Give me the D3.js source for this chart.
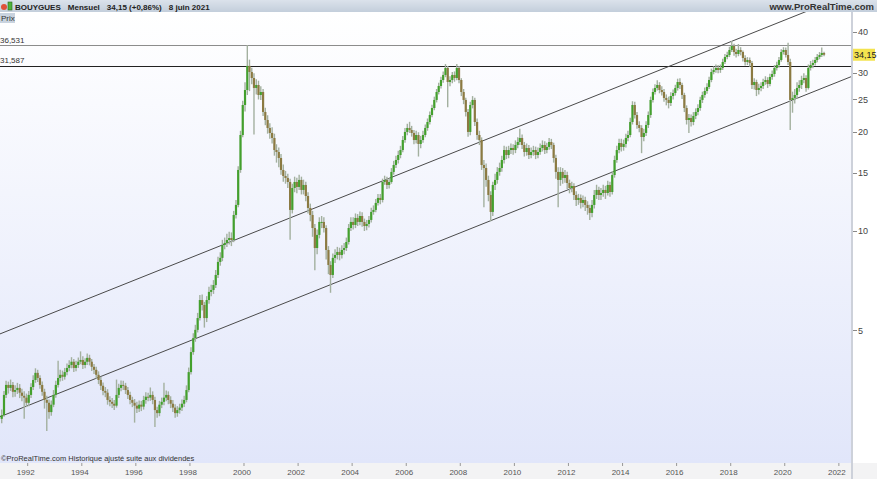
<!DOCTYPE html>
<html>
<head>
<meta charset="utf-8">
<script src="https://cdn.jsdelivr.net/npm/d3@7"></script>
<style>
body { margin: 0; background: #fff; }
svg { display: block; font-family: "Liberation Sans", Arial, sans-serif; }
</style>
</head>
<body>
<script>
// monthly closes, Jan 1991 -> Jun 2021 (one line per year)
var closes = [
  2.77, 3.19, 3.42, 3.35, 3.42, 3.26, 3.30, 3.35, 3.24, 3.17, 3.13, 3.02,
  3.19, 3.37, 3.54, 3.72, 3.59, 3.42, 3.26, 3.08, 3.02, 2.83, 2.98, 3.19,
  3.42, 3.59, 3.67, 3.62, 3.74, 3.85, 3.93, 4.02, 3.85, 3.93, 4.02, 4.07,
  3.93, 4.02, 4.13, 4.02, 3.88, 3.80, 3.67, 3.54, 3.40, 3.28, 3.24, 3.08,
  3.04, 3.00, 2.96, 3.19, 3.35, 3.42, 3.40, 3.30, 3.19, 3.08, 3.02, 2.96,
  2.90, 2.98, 2.94, 3.08, 3.15, 3.13, 3.19, 3.08, 2.87, 2.81, 2.98, 3.04,
  3.13, 3.19, 3.08, 3.00, 2.92, 2.81, 2.87, 2.92, 3.00, 3.08, 3.30, 3.74,
  4.30, 4.74, 5.02, 5.45, 6.18, 5.97, 5.45, 6.18, 6.54, 6.63, 6.86, 7.36,
  8.06, 8.29, 9.07, 9.20, 9.39, 9.52, 9.39, 11.18, 11.99, 15.30, 19.52, 24.06,
  26.71, 31.59, 30.28, 29.04, 27.09, 27.66, 25.80, 26.34, 22.92, 21.67, 20.50, 19.80,
  19.12, 17.58, 17.34, 16.63, 15.30, 14.67, 14.47, 14.07, 11.58, 13.49, 14.07, 13.59,
  14.27, 13.31, 13.78, 12.76, 11.74, 11.18, 10.21, 8.88, 9.73, 10.65, 10.65, 10.21,
  8.76, 7.89, 7.36, 8.29, 8.46, 8.64, 8.46, 8.76, 8.88, 9.26, 10.21, 10.65,
  10.43, 10.95, 10.65, 11.10, 10.65, 10.35, 10.50, 10.80, 11.42, 11.58, 12.16, 12.59,
  12.41, 14.07, 14.27, 13.78, 14.07, 15.09, 15.84, 16.40, 16.98, 17.58, 18.85, 19.94,
  20.50, 20.21, 19.80, 18.85, 19.52, 18.34, 18.85, 19.52, 20.50, 21.37, 22.44, 23.56,
  24.92, 26.34, 27.47, 28.64, 29.66, 31.14, 28.24, 28.64, 29.66, 29.04, 31.14, 28.64,
  26.34, 24.92, 22.92, 19.94, 24.06, 24.92, 21.37, 19.52, 18.85, 15.84, 15.51, 14.27,
  12.85, 11.42, 13.78, 14.27, 15.09, 15.51, 16.40, 17.58, 16.98, 17.58, 17.83, 17.58,
  18.21, 18.59, 19.12, 18.21, 17.34, 17.83, 16.98, 17.34, 17.58, 16.98, 17.34, 17.83,
  18.21, 17.58, 17.96, 18.59, 18.21, 16.63, 15.09, 14.27, 15.09, 14.47, 14.77, 13.97,
  13.49, 13.68, 12.85, 12.41, 12.59, 12.16, 12.41, 11.99, 11.74, 11.34, 11.99, 12.85,
  13.31, 12.85, 13.03, 13.31, 13.03, 13.78, 13.12, 14.77, 16.40, 17.58, 18.46, 17.96,
  18.34, 19.12, 19.52, 21.37, 24.06, 22.44, 20.93, 20.50, 19.25, 19.80, 20.93, 22.44,
  24.92, 26.34, 27.09, 27.66, 26.71, 26.34, 25.27, 24.92, 24.40, 25.62, 26.16, 27.09,
  28.24, 27.66, 25.80, 23.56, 21.67, 21.98, 21.37, 22.29, 22.92, 23.56, 24.92, 25.80,
  26.53, 27.28, 28.64, 30.28, 30.71, 31.14, 30.71, 31.14, 32.47, 33.62, 34.09, 35.30,
  36.30, 34.81, 34.33, 35.30, 34.81, 33.39, 32.47, 32.92, 32.24, 27.66, 28.24, 26.71,
  27.09, 27.47, 28.24, 28.64, 27.86, 29.25, 29.86, 31.14, 31.80, 32.92, 34.81, 35.30,
  34.09, 32.47, 24.92, 25.27, 25.80, 27.09, 27.66, 28.64, 29.04, 27.09, 31.14, 31.80,
  32.24, 32.92, 33.62, 34.09, 34.57, 34.15
];
var highs = [
  2.88, 3.28, 3.52, 3.50, 3.55, 3.49, 3.41, 3.47, 3.44, 3.33, 3.27, 3.22,
  3.28, 3.46, 3.66, 3.84, 3.80, 3.66, 3.50, 3.33, 3.17, 3.09, 3.07, 3.30,
  3.52, 4.05, 3.80, 3.78, 3.85, 3.97, 4.06, 4.15, 4.10, 4.05, 4.14, 4.32,
  4.18, 4.12, 4.26, 4.22, 4.10, 3.96, 3.88, 3.76, 3.62, 3.48, 3.37, 3.32,
  3.16, 3.12, 3.08, 3.55, 3.45, 3.53, 3.52, 3.47, 3.37, 3.26, 3.15, 3.10,
  3.04, 3.07, 3.06, 3.17, 3.25, 3.24, 3.36, 3.27, 3.15, 2.94, 3.06, 3.13,
  3.47, 3.29, 3.27, 3.16, 3.08, 2.99, 2.95, 3.00, 3.09, 3.17, 3.41, 3.86,
  4.45, 4.90, 5.20, 5.65, 6.40, 6.42, 6.10, 6.35, 6.78, 6.88, 7.10, 7.62,
  8.35, 8.62, 9.40, 9.55, 9.80, 9.95, 9.90, 11.50, 12.40, 15.70, 20.10, 24.80,
  28.20, 36.53, 33.00, 31.20, 30.00, 28.80, 28.50, 27.40, 26.90, 23.60, 22.40, 21.20,
  20.60, 19.70, 18.30, 17.90, 17.10, 15.90, 15.20, 14.90, 14.40, 13.90, 14.60, 14.50,
  14.80, 14.60, 14.30, 14.10, 13.10, 12.10, 11.50, 10.50, 10.10, 11.00, 11.10, 11.00,
  10.40, 9.00, 8.10, 8.55, 8.80, 8.95, 8.90, 9.05, 9.20, 9.55, 10.50, 11.00,
  11.00, 11.30, 11.25, 11.45, 11.40, 10.90, 10.80, 11.10, 11.75, 11.95, 12.50, 12.95,
  12.95, 14.40, 14.70, 14.60, 14.45, 15.50, 16.30, 16.90, 17.50, 18.10, 19.40, 20.50,
  21.10, 21.40, 20.80, 20.20, 20.10, 19.90, 19.40, 20.10, 21.00, 21.90, 23.00, 24.10,
  25.50, 26.90, 28.10, 29.30, 30.40, 32.00, 31.60, 29.40, 30.30, 30.40, 32.00, 31.60,
  29.00, 26.90, 25.30, 23.40, 24.60, 25.60, 25.30, 21.90, 20.10, 19.20, 16.40, 16.00,
  14.70, 13.20, 14.10, 14.90, 15.60, 16.10, 16.90, 18.10, 18.00, 18.10, 18.40, 18.30,
  18.80, 19.20, 20.40, 19.60, 18.60, 18.40, 18.20, 17.90, 18.10, 18.00, 17.90, 18.40,
  18.80, 18.70, 18.50, 19.10, 19.00, 18.50, 17.00, 15.60, 15.60, 15.50, 15.30, 15.10,
  14.30, 14.10, 13.95, 13.20, 12.95, 12.90, 12.80, 12.70, 12.30, 12.00, 12.40, 13.30,
  13.80, 13.60, 13.50, 13.80, 13.70, 14.20, 14.10, 15.20, 16.90, 18.10, 19.00, 19.00,
  18.90, 19.70, 20.10, 22.00, 24.70, 24.60, 22.90, 21.50, 20.90, 20.40, 21.50, 23.00,
  25.50, 27.00, 27.80, 28.60, 28.20, 27.40, 26.90, 25.90, 25.50, 26.30, 26.80, 27.70,
  28.90, 29.00, 28.10, 26.20, 24.00, 22.60, 22.50, 22.90, 23.50, 24.20, 25.50, 26.40,
  27.20, 28.00, 29.30, 31.00, 31.50, 31.90, 31.80, 31.90, 33.20, 34.30, 34.90, 36.10,
  37.60, 36.90, 35.60, 36.80, 36.00, 35.20, 34.00, 33.60, 33.50, 32.70, 29.00, 28.70,
  27.90, 28.20, 28.90, 29.40, 29.20, 29.90, 30.60, 31.80, 32.50, 33.60, 35.50, 36.00,
  35.90, 37.10, 33.20, 26.40, 26.90, 28.20, 28.60, 29.50, 30.00, 29.60, 31.90, 32.70,
  33.00, 33.60, 34.30, 34.80, 35.90, 34.90
];
var lows = [
  2.62, 2.74, 3.12, 3.22, 3.28, 3.14, 3.15, 3.21, 3.12, 3.05, 2.70, 2.93,
  2.95, 3.12, 3.30, 3.47, 3.49, 3.33, 3.17, 2.90, 2.48, 2.70, 2.76, 2.93,
  3.13, 3.36, 3.50, 3.52, 3.55, 3.66, 3.76, 3.84, 3.74, 3.76, 3.85, 3.95,
  3.82, 3.84, 3.93, 3.92, 3.77, 3.69, 3.57, 3.44, 3.30, 3.18, 3.14, 2.98,
  2.95, 2.91, 2.87, 2.92, 3.12, 3.27, 3.30, 3.21, 3.10, 2.99, 2.93, 2.63,
  2.81, 2.83, 2.85, 2.88, 3.00, 3.05, 3.06, 2.99, 2.55, 2.72, 2.75, 2.91,
  2.97, 3.05, 2.99, 2.91, 2.83, 2.72, 2.74, 2.80, 2.85, 2.93, 3.03, 3.25,
  3.68, 4.22, 4.62, 4.93, 5.36, 5.75, 5.10, 5.30, 6.02, 6.35, 6.45, 6.72,
  7.20, 7.85, 8.10, 8.80, 8.95, 9.10, 9.00, 9.25, 10.90, 11.80, 15.00, 19.20,
  23.00, 25.80, 26.50, 27.80, 19.60, 25.90, 25.00, 24.90, 22.30, 20.90, 19.70, 19.00,
  18.40, 16.90, 16.10, 15.60, 14.80, 14.10, 13.90, 13.50, 9.40, 11.30, 13.10, 13.00,
  13.30, 12.90, 12.90, 12.30, 11.30, 10.70, 9.60, 7.60, 8.50, 9.50, 10.20, 9.90,
  8.20, 7.40, 6.50, 7.20, 8.00, 8.20, 8.15, 8.25, 8.50, 8.70, 9.10, 10.00,
  10.10, 10.20, 10.35, 10.40, 10.30, 10.00, 10.05, 10.25, 10.60, 11.20, 11.40, 11.95,
  12.05, 12.20, 13.80, 13.40, 13.45, 13.90, 14.80, 15.50, 16.00, 16.60, 17.30, 18.50,
  19.50, 19.80, 19.30, 18.30, 18.40, 16.80, 17.80, 18.50, 19.20, 20.10, 21.00, 22.10,
  23.20, 24.50, 25.90, 27.00, 28.10, 29.20, 23.70, 27.40, 28.00, 28.30, 28.60, 28.00,
  25.60, 24.20, 22.20, 19.30, 19.50, 23.50, 20.80, 18.90, 18.20, 15.30, 11.80, 13.60,
  12.30, 10.70, 11.10, 13.30, 13.90, 14.70, 15.10, 16.00, 16.50, 16.60, 17.10, 17.00,
  17.20, 17.80, 18.20, 17.70, 16.80, 16.90, 16.50, 16.60, 16.90, 16.50, 16.60, 17.00,
  17.40, 17.10, 17.20, 17.60, 17.70, 16.10, 14.40, 11.80, 13.70, 13.90, 14.00, 13.40,
  13.00, 13.10, 12.40, 11.90, 12.00, 11.70, 11.80, 11.50, 11.20, 10.80, 11.00, 11.70,
  12.50, 12.40, 12.40, 12.70, 12.50, 12.80, 12.70, 12.90, 14.50, 16.10, 17.20, 17.40,
  17.50, 17.90, 18.70, 19.20, 21.00, 21.90, 20.40, 19.90, 17.20, 18.70, 19.40, 20.50,
  22.00, 24.50, 25.90, 26.60, 26.10, 25.70, 24.60, 24.00, 23.50, 23.90, 25.00, 25.70,
  26.60, 26.90, 25.10, 22.90, 21.00, 19.80, 20.70, 20.90, 21.80, 22.40, 23.10, 24.40,
  25.30, 26.00, 26.90, 28.20, 29.80, 30.10, 30.00, 30.10, 30.70, 32.00, 33.10, 33.60,
  34.80, 33.90, 33.50, 33.80, 34.00, 32.60, 31.70, 31.80, 31.40, 26.90, 26.80, 25.60,
  25.90, 26.50, 26.90, 27.70, 27.10, 27.40, 28.70, 29.30, 30.60, 31.20, 32.50, 34.20,
  33.50, 31.80, 20.20, 22.80, 24.30, 25.10, 26.40, 26.90, 28.00, 26.40, 26.80, 30.60,
  31.10, 31.70, 32.40, 33.10, 33.60, 33.80
];
var firstOpen = 2.70;
var startYear = 1991;

var priceTicks = [5, 10, 15, 20, 25, 30, 40];
var yearTicks = [1992, 1994, 1996, 1998, 2000, 2002, 2004, 2006, 2008, 2010,
                 2012, 2014, 2016, 2018, 2020, 2022];
var levels = [36.531, 31.587];
var lastPrice = 34.15;
var headerParts = ["BOUYGUES", "Mensuel", "34,15 (+0,86%)", "8 juin 2021"];

// regression channel: two anchor dates, lower and upper bound prices
var channelDates = [new Date(1990, 11, 23), new Date(2022, 5, 14)];
var channelLow = [2.74, 29.3];
var channelHigh = [4.88, 52.3];

var W = 877, H = 479;
var plotR = 851, plotT = 12, plotB = 463;

var svg = d3.select("body").append("svg")
  .attr("width", W)
  .attr("height", H);

var defs = svg.append("defs");

var bg = defs.append("linearGradient")
  .attr("id", "plotbg")
  .attr("x1", 0).attr("y1", 0).attr("x2", 0).attr("y2", 1);
bg.append("stop").attr("offset", "0%").attr("stop-color", "#ffffff");
bg.append("stop").attr("offset", "100%").attr("stop-color", "#e1e6fa");

var hdr = defs.append("linearGradient")
  .attr("id", "hdrbg")
  .attr("x1", 0).attr("y1", 0).attr("x2", 0).attr("y2", 1);
hdr.append("stop").attr("offset", "0%").attr("stop-color", "#dbe2eb");
hdr.append("stop").attr("offset", "100%").attr("stop-color", "#c3cedb");

defs.append("clipPath").attr("id", "plotclip")
  .append("rect")
  .attr("x", 0).attr("y", plotT)
  .attr("width", plotR).attr("height", plotB - plotT);

var x = d3.scaleTime()
  .domain(channelDates)
  .range([0, plotR]);

var y = d3.scaleLog()
  .domain([2.041, 46.0])
  .range([459, 12]);

var fr = function(v, n) { return d3.format("." + n + "f")(v).replace(".", ","); };

// backgrounds
svg.append("rect")
  .attr("x", 0).attr("y", plotT)
  .attr("width", plotR).attr("height", plotB - plotT)
  .style("fill", "url(#plotbg)");

svg.append("rect")
  .attr("x", plotR).attr("y", plotT)
  .attr("width", W - plotR).attr("height", plotB - plotT)
  .style("fill", "#ffffff");

svg.append("rect")
  .attr("x", 0).attr("y", plotB)
  .attr("width", W).attr("height", H - plotB)
  .style("fill", "#f3f3f4");

var plot = svg.append("g").attr("clip-path", "url(#plotclip)");

// horizontal levels
plot.selectAll("line.level")
  .data(levels)
  .enter().append("line")
  .attr("class", "level")
  .attr("x1", 0).attr("x2", plotR)
  .attr("y1", function(d) { return Math.round(y(d)) + 0.5; })
  .attr("y2", function(d) { return Math.round(y(d)) + 0.5; })
  .style("stroke", function(d, i) { return i == 0 ? "#8c8c8c" : "#222"; })
  .style("stroke-width", 1);

// channel lines
[channelLow, channelHigh].forEach(function(vals) {
  plot.append("line")
    .attr("x1", x(channelDates[0])).attr("y1", y(vals[0]))
    .attr("x2", x(channelDates[1])).attr("y2", y(vals[1]))
    .style("stroke", "#4a4a4a")
    .style("stroke-width", 1);
});

// candles
var candles = closes.map(function(c, i) {
  return {
    date: new Date(startYear, i, 15),
    open: i ? closes[i - 1] : firstOpen,
    close: c,
    high: highs[i],
    low: lows[i]
  };
});

var cg = plot.selectAll("g.candle")
  .data(candles)
  .enter().append("g")
  .attr("class", "candle");

cg.append("line")
  .attr("x1", function(d) { return x(d.date); })
  .attr("x2", function(d) { return x(d.date); })
  .attr("y1", function(d) { return y(d.high); })
  .attr("y2", function(d) { return y(d.low); })
  .style("stroke", "#a3b09f")
  .style("stroke-width", 1.4);

cg.append("rect")
  .attr("x", function(d) { return x(d.date) - 1.1; })
  .attr("width", 2.2)
  .attr("y", function(d) { return y(Math.max(d.open, d.close)); })
  .attr("height", function(d) {
    return Math.max(1, Math.abs(y(d.open) - y(d.close)));
  })
  .style("fill", function(d) { return d.close >= d.open ? "#43a02d" : "#8b7a42"; });

// level labels
svg.selectAll("text.lvl")
  .data(levels)
  .enter().append("text")
  .attr("class", "lvl")
  .attr("x", 0)
  .attr("y", function(d) { return y(d) - 2.5; })
  .style("font-size", "8px")
  .style("fill", "#333")
  .text(function(d) { return fr(d, 3); });

svg.append("text")
  .attr("x", 1).attr("y", 461)
  .style("font-size", "7.5px")
  .style("fill", "#333")
  .text("©ProRealTime.com Historique ajusté suite aux dividendes");

// right price axis
svg.append("line")
  .attr("x1", plotR + 1).attr("x2", plotR + 1)
  .attr("y1", plotT).attr("y2", H)
  .style("stroke", "#cdd1da")
  .style("stroke-width", 2);

var ax = svg.append("g");
ax.selectAll("line")
  .data(priceTicks)
  .enter().append("line")
  .attr("x1", plotR + 2).attr("x2", plotR + 6)
  .attr("y1", function(d) { return Math.round(y(d)) + 0.5; })
  .attr("y2", function(d) { return Math.round(y(d)) + 0.5; })
  .style("stroke", "#888");
ax.selectAll("text")
  .data(priceTicks)
  .enter().append("text")
  .attr("x", plotR + 7)
  .attr("y", function(d) { return y(d); })
  .attr("dy", "0.35em")
  .style("font-size", "9px")
  .style("fill", "#444")
  .text(function(d) { return d; });

svg.append("rect")
  .attr("x", plotR + 2).attr("y", y(lastPrice) - 6)
  .attr("width", 22).attr("height", 12)
  .style("fill", "#f3e34f");
svg.append("text")
  .attr("x", plotR + 3).attr("y", y(lastPrice))
  .attr("dy", "0.35em")
  .style("font-size", "9px")
  .style("fill", "#222")
  .text(fr(lastPrice, 2));

// bottom time axis
var xa = svg.append("g");
xa.selectAll("line")
  .data(yearTicks)
  .enter().append("line")
  .attr("x1", function(d) { return x(new Date(d, 0, 1)); })
  .attr("x2", function(d) { return x(new Date(d, 0, 1)); })
  .attr("y1", plotB).attr("y2", plotB + 3)
  .style("stroke", "#999");
xa.selectAll("text")
  .data(yearTicks)
  .enter().append("text")
  .attr("x", function(d) { return x(new Date(d, 0, 1)) - 2; })
  .attr("y", 475)
  .attr("text-anchor", "middle")
  .style("font-size", "8px")
  .style("fill", "#555")
  .text(function(d) { return d; });

// header bar
svg.append("rect")
  .attr("x", 0).attr("y", 0)
  .attr("width", W).attr("height", plotT)
  .style("fill", "url(#hdrbg)");

svg.append("circle")
  .attr("cx", 4).attr("cy", 7).attr("r", 3)
  .style("fill", "#e0503a");
svg.append("rect")
  .attr("x", 8).attr("y", 2).attr("width", 4).attr("height", 8)
  .style("fill", "#4fb33a").style("stroke", "#2a6a20").style("stroke-width", 0.6);

var hx = 15;
headerParts.forEach(function(s) {
  var t = svg.append("text")
    .attr("x", hx)
    .attr("y", 9.5)
    .style("font-size", "8px")
    .style("font-weight", "bold")
    .style("fill", "#222")
    .text(s);
  hx += t.node().getComputedTextLength() + 7;
});

svg.append("text")
  .attr("x", 874).attr("y", 10)
  .attr("text-anchor", "end")
  .style("font-size", "9.5px")
  .style("font-weight", "bold")
  .style("fill", "#333")
  .text("www.ProRealTime.com");

svg.append("rect")
  .attr("x", 0).attr("y", 13)
  .attr("width", 15).attr("height", 10)
  .style("fill", "#c9d3df");
svg.append("text")
  .attr("x", 1).attr("y", 21)
  .style("font-size", "8px")
  .style("fill", "#333")
  .text("Prix");
</script>
</body>
</html>
